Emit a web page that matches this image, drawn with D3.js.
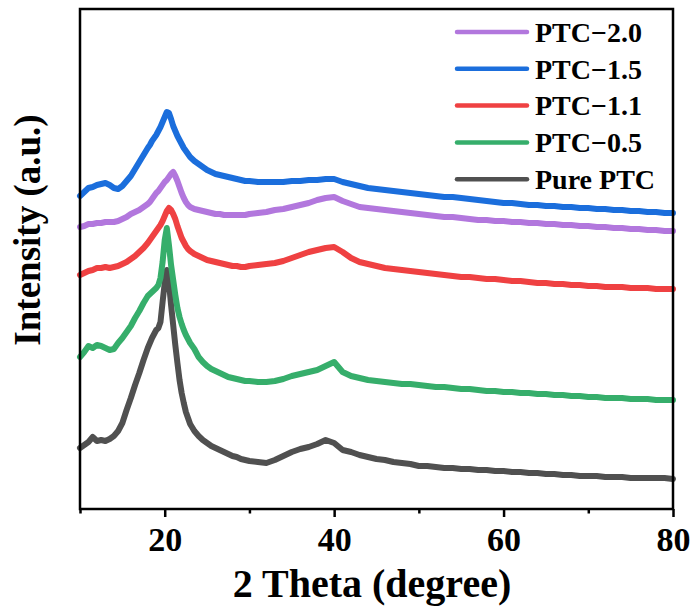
<!DOCTYPE html>
<html>
<head>
<meta charset="utf-8">
<script src="https://cdn.jsdelivr.net/npm/d3@7"></script>
<style>
  html, body { margin: 0; padding: 0; background: #fff; }
  svg { display: block; }
  text { font-family: "Liberation Serif", "Times New Roman", serif; font-weight: bold; fill: #000; }
</style>
</head>
<body>
<svg id="chart" width="696" height="609"></svg>
<script>
// 2θ sampling positions (degrees)
const twoTheta = [
  10, 10.5, 11, 11.5, 12, 12.5, 13, 13.5, 14, 14.5, 15, 15.5, 16, 16.5, 17, 17.5, 18,
  18.25, 18.5, 18.75, 19, 19.25, 19.5, 19.75, 20, 20.25, 20.5, 20.75, 21, 21.25, 21.5, 21.75, 22, 22.25, 22.5, 22.75, 23,
  23.5, 24, 24.5, 25, 25.5, 26, 26.5, 27, 27.5, 28, 28.5, 29, 29.5, 30,
  31, 32, 33, 34, 35, 36, 37, 38, 39, 40, 41, 42, 43, 44, 45, 46, 47, 48, 49, 50,
  51, 52, 53, 54, 55, 56, 57, 58, 59, 60, 61, 62, 63, 64, 65, 66, 67, 68, 69, 70,
  71, 72, 73, 74, 75, 76, 77, 78, 79, 80
];

// Stacked intensities (a.u.), one array per sample
const purePTC = [
  61, 64, 67, 72, 68, 69, 68, 70, 73, 78, 86, 99, 111, 124, 136, 149, 161,
  166, 171, 175, 179, 181, 187, 207, 226, 239, 227, 204, 184, 164, 146, 129, 116, 106, 97, 91, 85,
  78, 73, 69, 66, 63, 61, 59, 57, 55, 53, 52, 50, 49, 48,
  47, 46, 49, 53, 57, 60, 62, 65, 69, 66, 59, 57, 54, 52, 50, 49, 47, 46, 45, 43,
  43, 42, 41, 41, 40, 40, 39, 39, 38, 38, 37, 37, 36, 36, 35, 35, 34, 34, 33, 33,
  33, 32, 32, 32, 31, 31, 31, 31, 31, 30
];
const ptc05 = [
  152, 157, 163, 161, 164, 163, 161, 159, 160, 166, 171, 177, 183, 191, 198, 206, 213,
  215, 217, 219, 221, 224, 231, 247, 269, 281, 264, 244, 229, 214, 201, 192, 185, 179, 174, 170, 166,
  160, 152, 147, 143, 140, 138, 136, 134, 132, 131, 130, 129, 128, 128,
  127, 127, 128, 130, 133, 135, 137, 139, 143, 147, 137, 133, 131, 129, 128, 127, 126, 125, 125, 124,
  123, 122, 122, 121, 120, 120, 119, 118, 118, 117, 117, 116, 116, 115, 115, 114, 114, 113, 113, 112,
  112, 111, 111, 111, 110, 110, 110, 109, 109, 109
];
const ptc11 = [
  234, 236, 238, 239, 241, 241, 242, 241, 242, 243, 245, 247, 250, 253, 257, 261, 266,
  269, 272, 275, 278, 281, 284, 288, 293, 298, 301, 299, 295, 290, 283, 277, 271, 267, 263, 260, 258,
  255, 253, 251, 249, 248, 247, 246, 245, 244, 243, 243, 242, 242, 243,
  244, 245, 246, 248, 251, 254, 257, 259, 261, 262, 257, 251, 247, 245, 243, 241, 240, 239, 238, 237,
  236, 235, 234, 233, 232, 232, 231, 230, 230, 229, 228, 228, 227, 226, 226, 225, 225, 224, 224, 223,
  223, 222, 222, 222, 221, 221, 221, 220, 220, 220
];
const ptc15 = [
  313, 317, 321, 322, 324, 325, 326, 324, 321, 320, 323, 328, 333, 340, 347, 354, 361,
  364, 368, 371, 374, 378, 382, 387, 392, 397, 396, 390, 383, 378, 373, 369, 365, 361, 358, 355, 352,
  348, 345, 342, 339, 337, 335, 334, 333, 332, 331, 330, 329, 328, 328,
  327, 327, 327, 327, 328, 328, 329, 329, 330, 330, 327, 325, 323, 321, 320, 319, 318, 317, 316, 315,
  314, 313, 312, 312, 311, 310, 309, 308, 307, 306, 306, 305, 304, 304, 303, 303, 302, 302, 301, 301,
  300, 300, 299, 299, 298, 298, 297, 297, 296, 296
];
const ptc20 = [
  282, 283, 285, 285, 286, 286, 287, 287, 287, 288, 290, 292, 295, 297, 299, 302, 305,
  307, 310, 313, 316, 318, 321, 324, 327, 329, 332, 335, 337, 333, 328, 322, 316, 311, 307, 304, 302,
  300, 299, 298, 297, 296, 295, 295, 294, 294, 294, 294, 294, 294, 295,
  296, 297, 299, 300, 302, 304, 306, 309, 311, 312, 308, 305, 302, 301, 300, 299, 298, 297, 296, 295,
  294, 293, 292, 292, 291, 290, 289, 289, 288, 288, 287, 287, 286, 286, 285, 285, 284, 284, 283, 283,
  282, 282, 281, 281, 280, 280, 279, 279, 278, 278
];

const seriesNames = ["PTC\u22122.0", "PTC\u22121.5", "PTC\u22121.1", "PTC\u22120.5", "Pure PTC"];
const seriesValues = [ptc20, ptc15, ptc11, ptc05, purePTC];
const seriesColors = ["#B277DD", "#1B6EDC", "#EF4142", "#36AE6B", "#505050"];

const xTicks = [10, 20, 30, 40, 50, 60, 70, 80];
const xTickLabels = ["", "20", "", "40", "", "60", "", "80"];

const svg = d3.select("#chart");
const plot = { left: 80, right: 673, top: 9, bottom: 509 };

const x = d3.scaleLinear().domain([10, 80]).range([plot.left, plot.right]);
const y = d3.scaleLinear().domain([0, 500]).range([plot.bottom, plot.top]);

// curves: Pure PTC at the back, PTC-2.0 drawn after the blue trace
const drawOrder = [4, 3, 2, 1, 0];
const line = d3.line().x((d, i) => x(twoTheta[i])).y(d => y(d));
svg.append("g").selectAll("path")
  .data(drawOrder)
  .join("path")
  .attr("d", k => line(seriesValues[k]))
  .attr("fill", "none")
  .attr("stroke", k => seriesColors[k])
  .attr("stroke-width", 6)
  .attr("stroke-linejoin", "round")
  .attr("stroke-linecap", "round");

// bottom axis: long major ticks at labelled values, short minor ticks between
const xAxis = d3.axisBottom(x)
  .tickValues(xTicks)
  .tickFormat((d, i) => xTickLabels[i])
  .tickSizeOuter(0)
  .tickPadding(12);
const gx = svg.append("g")
  .attr("transform", `translate(0,${plot.bottom})`)
  .call(xAxis);
gx.select(".domain").remove();
gx.selectAll(".tick line")
  .attr("stroke", "#000")
  .attr("stroke-width", 2.5)
  .attr("y2", (d, i) => xTickLabels[i] ? 8 : 4.5);
gx.selectAll(".tick text")
  .attr("font-family", "Liberation Serif, Times New Roman, serif")
  .attr("font-weight", "bold")
  .attr("font-size", 34)
  .attr("fill", "#000");

// frame
svg.append("rect")
  .attr("x", plot.left).attr("y", plot.top)
  .attr("width", plot.right - plot.left).attr("height", plot.bottom - plot.top)
  .attr("fill", "none").attr("stroke", "#000").attr("stroke-width", 2.5);

// axis titles
svg.append("text")
  .attr("x", 372).attr("y", 597)
  .attr("text-anchor", "middle")
  .attr("font-size", 40)
  .text("2 Theta (degree)");
svg.append("text")
  .attr("transform", "translate(40,230) rotate(-90)")
  .attr("text-anchor", "middle")
  .attr("font-size", 37)
  .text("Intensity (a.u.)");

// legend
const legend = svg.append("g").selectAll("g")
  .data(seriesNames)
  .join("g")
  .attr("transform", (d, i) => `translate(457,${32 + i * 36.8})`);
legend.append("line")
  .attr("x1", 0).attr("x2", 70)
  .attr("stroke", (d, i) => seriesColors[i])
  .attr("stroke-width", 4.5)
  .attr("stroke-linecap", "round");
legend.append("text")
  .attr("x", 78).attr("dy", "0.35em")
  .attr("font-size", 28)
  .text(d => d);
</script>
</body>
</html>
